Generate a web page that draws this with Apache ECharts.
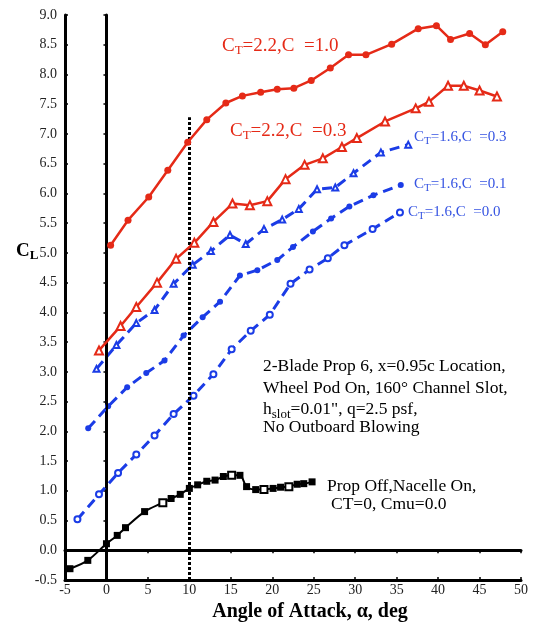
<!DOCTYPE html>
<html>
<head>
<meta charset="utf-8">
<script src="https://cdn.jsdelivr.net/npm/echarts@6/dist/echarts.min.js"></script>
<style>
  html, body { margin: 0; padding: 0; background: #fff; }
  #chart { width: 535px; height: 622px; }
</style>
</head>
<body>
<div id="chart"></div>
<script>
// Lift coefficient vs. angle of attack, 2-blade prop 6 with channel-slot blowing

// CT = 2.2, Cmu = 1.0
const alphaCt22Mu10 = [0.5, 2.6, 5.1, 7.4, 9.8, 12.1, 14.4, 16.4, 18.6, 20.6, 22.6, 24.7, 27.0, 29.2, 31.3, 34.4, 37.6, 39.8, 41.5, 43.8, 45.7, 47.8];
const clCt22Mu10    = [5.13, 5.55, 5.94, 6.39, 6.86, 7.24, 7.52, 7.64, 7.70, 7.75, 7.77, 7.90, 8.11, 8.33, 8.33, 8.51, 8.77, 8.82, 8.59, 8.69, 8.50, 8.72];

// CT = 2.2, Cmu = 0.3
const alphaCt22Mu03 = [-0.9, 1.7, 3.6, 6.1, 8.4, 10.6, 12.9, 15.2, 17.3, 19.4, 21.6, 23.9, 26.1, 28.4, 30.2, 33.6, 37.3, 38.9, 41.2, 43.1, 45.0, 47.1];
const clCt22Mu03    = [3.36, 3.77, 4.09, 4.50, 4.90, 5.17, 5.52, 5.83, 5.80, 5.87, 6.24, 6.48, 6.59, 6.78, 6.93, 7.21, 7.43, 7.54, 7.81, 7.81, 7.73, 7.63];

// CT = 1.6, Cmu = 0.3
const alphaCt16Mu03 = [-1.2, 1.2, 3.6, 5.8, 8.1, 10.4, 12.6, 14.9, 16.8, 19.0, 21.2, 23.2, 25.4, 27.6, 29.8, 33.1, 36.4];
const clCt16Mu03    = [3.05, 3.45, 3.82, 4.04, 4.48, 4.80, 5.03, 5.30, 5.15, 5.40, 5.56, 5.74, 6.07, 6.10, 6.34, 6.69, 6.82];

// CT = 1.6, Cmu = 0.1
const alphaCt16Mu01 = [-2.2, 0.2, 2.5, 4.8, 7.0, 9.3, 11.6, 13.7, 16.1, 18.2, 20.6, 22.5, 24.9, 27.1, 29.3, 32.2, 35.5];
const clCt16Mu01    = [2.05, 2.42, 2.74, 2.98, 3.19, 3.61, 3.92, 4.18, 4.62, 4.71, 4.88, 5.10, 5.36, 5.58, 5.78, 5.97, 6.14];

// CT = 1.6, Cmu = 0.0
const alphaCt16Mu00 = [-3.5, -0.9, 1.4, 3.6, 5.8, 8.1, 10.5, 12.9, 15.1, 17.4, 19.7, 22.2, 24.5, 26.7, 28.7, 32.1, 35.4];
const clCt16Mu00    = [0.52, 0.94, 1.30, 1.61, 1.93, 2.29, 2.60, 2.96, 3.38, 3.69, 3.96, 4.48, 4.72, 4.91, 5.13, 5.40, 5.68];

// Prop off, nacelle on
const alphaPropOff = [-4.4, -2.25, 0.0, 1.3, 2.3, 4.6, 6.8, 7.8, 8.9, 10.0, 11.0, 12.1, 13.1, 14.1, 15.1, 16.1, 16.9, 18.0, 19.0, 20.1, 21.0, 22.0, 23.0, 23.8, 24.8];
const clPropOff    = [-0.31, -0.17, 0.11, 0.25, 0.38, 0.65, 0.80, 0.87, 0.94, 1.04, 1.10, 1.16, 1.18, 1.24, 1.26, 1.26, 1.07, 1.02, 1.02, 1.04, 1.06, 1.07, 1.11, 1.12, 1.15];
const propOffOpenPoints = [6, 14, 18, 21];

// Axis ranges and reference lines
const xTicks = { min: -5, max: 50, step: 5 };
const yTicks = { min: -0.5, max: 9.0, step: 0.5 };
const refAlpha = 10;
const refAlphaTop = 7.28;

const RED = '#e52a17';
const BLUE = '#1b3ce6';
const BLUE_TEXT = '#3654e2';
const SERIF = '"Liberation Serif", "DejaVu Serif", serif';

const pairs = (xs, ys) => xs.map((x, i) => [x, ys[i]]);

const chart = echarts.init(document.getElementById('chart'), null, { renderer: 'canvas' });

const frameAxis = {
  type: 'value',
  axisLine: { show: true, lineStyle: { color: '#000', width: 3 } },
  axisTick: { show: true, inside: true, length: 3, lineStyle: { color: '#000', width: 1.5 } },
  axisLabel: { show: false },
  splitLine: { show: false }
};

// Text with optional subscript runs; parts are [text, isSubscript]
function label(x, y, parts, size, subSize, color, bold) {
  const drop = 2;
  const weight = bold ? 'bold' : 'normal';
  return {
    type: 'text', x: x, y: y, z: 100,
    style: {
      text: parts.map(p => (p[1] ? '{s|' : '{n|') + p[0] + '}').join(''),
      fill: color,
      align: 'left',
      verticalAlign: 'middle',
      rich: {
        n: { fontFamily: SERIF, fontSize: size, fontWeight: weight, fill: color, lineHeight: size, padding: [0, 0, drop, 0], verticalAlign: 'bottom' },
        s: { fontFamily: SERIF, fontSize: subSize, fontWeight: weight, fill: color, lineHeight: subSize, verticalAlign: 'bottom' }
      }
    }
  };
}

const option = {
  backgroundColor: '#fff',
  animation: false,
  grid: { left: 65, right: 14, top: 15, bottom: 42, containLabel: false, outerBoundsMode: 'none' },
  xAxis: [
    {
      type: 'value', min: xTicks.min, max: xTicks.max, interval: xTicks.step,
      axisLine: { show: true, onZero: false, lineStyle: { color: '#000', width: 3 } },
      axisTick: { show: true, inside: true, length: 3, lineStyle: { color: '#000', width: 1.5 } },
      axisLabel: { color: '#222', fontFamily: SERIF, fontSize: 14, margin: 3 },
      splitLine: { show: false },
      name: 'Angle of Attack, α, deg',
      nameLocation: 'middle', nameGap: 17,
      nameTextStyle: { fontFamily: SERIF, fontSize: 20, fontWeight: 'bold', color: '#000', padding: [0, 0, 0, 34] }
    },
    Object.assign({}, frameAxis, { position: 'top', min: xTicks.min, max: xTicks.max, interval: xTicks.step })
  ],
  yAxis: [
    {
      type: 'value', min: yTicks.min, max: yTicks.max, interval: yTicks.step,
      axisLine: { show: true, onZero: false, lineStyle: { color: '#000', width: 3 } },
      axisTick: { show: true, inside: true, length: 3, lineStyle: { color: '#000', width: 1.5 } },
      axisLabel: { color: '#222', fontFamily: SERIF, fontSize: 14, margin: 8, formatter: v => v.toFixed(1) },
      splitLine: { show: false }
    },
    Object.assign({}, frameAxis, { position: 'right', min: yTicks.min, max: yTicks.max, interval: yTicks.step })
  ],
  series: [
    {
      // reference lines at alpha = 0, CL = 0 and the dotted alpha = 10 marker
      type: 'line', data: [], silent: true,
      markLine: {
        silent: true, symbol: 'none', label: { show: false }, animation: false,
        data: [
          { xAxis: 0, lineStyle: { color: '#000', width: 2, type: 'solid' } },
          { yAxis: 0, lineStyle: { color: '#000', width: 2, type: 'solid' } },
          [
            { coord: [refAlpha, yTicks.min], lineStyle: { color: '#000', width: 3, type: [3, 2] } },
            { coord: [refAlpha, refAlphaTop] }
          ]
        ]
      }
    },
    {
      name: 'CT=2.2, Cmu=1.0', type: 'line', data: pairs(alphaCt22Mu10, clCt22Mu10),
      lineStyle: { color: RED, width: 2.5 }, itemStyle: { color: RED },
      symbol: 'circle', symbolSize: 7, z: 5
    },
    {
      name: 'CT=2.2, Cmu=0.3', type: 'line', data: pairs(alphaCt22Mu03, clCt22Mu03),
      lineStyle: { color: RED, width: 2.5 }, itemStyle: { color: '#fff', borderColor: RED, borderWidth: 2 },
      symbol: 'triangle', symbolSize: 8, z: 5
    },
    {
      name: 'CT=1.6, Cmu=0.3', type: 'line', data: pairs(alphaCt16Mu03, clCt16Mu03),
      lineStyle: { color: BLUE, width: 3, type: [10, 6] }, itemStyle: { color: '#fff', borderColor: BLUE, borderWidth: 2 },
      symbol: 'triangle', symbolSize: 6, z: 4
    },
    {
      name: 'CT=1.6, Cmu=0.1', type: 'line', data: pairs(alphaCt16Mu01, clCt16Mu01),
      lineStyle: { color: BLUE, width: 3, type: [10, 6] }, itemStyle: { color: BLUE },
      symbol: 'circle', symbolSize: 6, z: 4
    },
    {
      name: 'CT=1.6, Cmu=0.0', type: 'line', data: pairs(alphaCt16Mu00, clCt16Mu00),
      lineStyle: { color: BLUE, width: 3, type: [10, 6] }, itemStyle: { color: '#fff', borderColor: BLUE, borderWidth: 2 },
      symbol: 'circle', symbolSize: 6, z: 4
    },
    {
      name: 'Prop Off, Nacelle On', type: 'line', smooth: 0.3,
      data: pairs(alphaPropOff, clPropOff).map((p, i) => propOffOpenPoints.includes(i)
        ? { value: p, itemStyle: { color: '#fff', borderColor: '#000', borderWidth: 2 } }
        : p),
      lineStyle: { color: '#000', width: 2 }, itemStyle: { color: '#000' },
      symbol: 'rect', symbolSize: 7, z: 6
    }
  ],
  graphic: [
    label(16, 253, [['C', false], ['L', true]], 19, 13, '#000', true),
    label(222, 48, [['C', false], ['T', true], ['=2.2,C  =1.0', false]], 19, 13, RED),
    label(230, 133, [['C', false], ['T', true], ['=2.2,C  =0.3', false]], 19, 13, RED),
    label(414, 139, [['C', false], ['T', true], ['=1.6,C  =0.3', false]], 15, 11, BLUE_TEXT),
    label(414, 186, [['C', false], ['T', true], ['=1.6,C  =0.1', false]], 15, 11, BLUE_TEXT),
    label(408, 214, [['C', false], ['T', true], ['=1.6,C  =0.0', false]], 15, 11, BLUE_TEXT),
    label(263, 369, [['2-Blade Prop 6, x=0.95c Location,', false]], 17.5, 12, '#000'),
    label(263, 391, [['Wheel Pod On, 160° Channel Slot,', false]], 17.5, 12, '#000'),
    label(263, 412, [['h', false], ['slot', true], ['=0.01", q=2.5 psf,', false]], 17.5, 13, '#000'),
    label(263, 430, [['No Outboard Blowing', false]], 17.5, 12, '#000'),
    label(327, 489, [['Prop Off,Nacelle On,', false]], 17.5, 12, '#000'),
    label(331, 507, [['CT=0, Cmu=0.0', false]], 17.5, 12, '#000')
  ]
};

chart.setOption(option);
</script>
</body>
</html>
